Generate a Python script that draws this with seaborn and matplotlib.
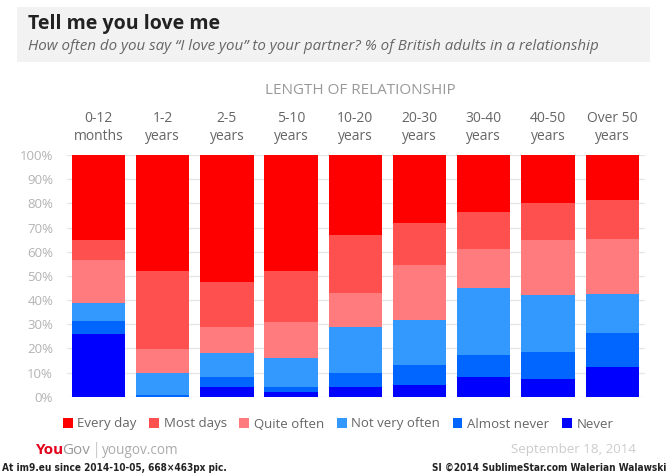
import matplotlib
matplotlib.use("Agg")
import matplotlib.pyplot as plt
from matplotlib.patches import Rectangle, Patch
import numpy as np
import pandas as pd
import seaborn as sns

# ---- data (percent of respondents) ----
categories = ["0-12\nmonths", "1-2\nyears", "2-5\nyears", "5-10\nyears", "10-20\nyears",
              "20-30\nyears", "30-40\nyears", "40-50\nyears", "Over 50\nyears"]
every_day     = [35.0, 48.0, 52.6, 48.0, 33.1, 28.0, 23.4, 19.7, 18.5]
most_days     = [8.4, 32.1, 18.4, 21.1, 24.0, 17.5, 15.5, 15.5, 16.4]
quite_often   = [17.7, 10.1, 10.8, 14.9, 14.1, 22.8, 16.3, 22.7, 22.5]
not_very_often = [7.6, 9.1, 10.2, 12.0, 19.0, 18.5, 27.4, 23.6, 16.3]
almost_never  = [5.4, 0.7, 4.0, 2.1, 5.8, 8.2, 9.4, 11.3, 14.0]
never         = [25.9, 0.0, 4.0, 1.9, 4.0, 5.0, 8.0, 7.2, 12.3]
series_names = ["Every day", "Most days", "Quite often", "Not very often", "Almost never", "Never"]
series_values = [every_day, most_days, quite_often, not_very_often, almost_never, never]
colors = ["#FF0000", "#FF5050", "#FF7B7E", "#3399FF", "#0066FF", "#0000FF"]
y_ticks = [0, 10, 20, 30, 40, 50, 60, 70, 80, 90, 100]

sns.set_theme(style="white")
plt.rcParams["font.family"] = ["Open Sans", "DejaVu Sans"]

fig = plt.figure(figsize=(6.68, 4.75), dpi=100)
W, H = 668, 475
ax = fig.add_axes([67 / W, 1 - 396.7 / H, (645 - 67) / W, (396.7 - 155) / H])

# stacked bars: draw cumulative heights from the top series down
df = pd.DataFrame({name: vals for name, vals in zip(series_names, series_values)})
cum = np.zeros(len(categories))
cums = {}
for name in series_names[::-1]:
    cum = cum + np.array(df[name])
    cums[name] = cum.copy()
total = cums[series_names[0]]
for name in series_names:
    d = pd.DataFrame({"cat": categories, "val": cums[name] / total * 100})
    sns.barplot(data=d, x="cat", y="val", color=colors[series_names.index(name)],
                width=0.83, saturation=1, ax=ax, zorder=3, linewidth=0)

ax.set_xlim(-0.49, 8.51)
ax.set_ylim(0, 100)
ax.set_yticks(y_ticks)
ax.set_yticklabels([f"{t}%" for t in y_ticks], color="#b3b3b3", fontsize=9.5)
ax.grid(axis="y", color="#e6e6e6", linewidth=1, zorder=0)
ax.grid(axis="x", visible=False)
for s in ax.spines.values():
    s.set_visible(False)
ax.tick_params(axis="y", length=0, pad=10)
ax.xaxis.tick_top()
ax.tick_params(axis="x", length=0, pad=8, labelsize=10, labelcolor="#666666")
ax.set_xticks(range(len(categories)))
ax.set_xticklabels(categories, linespacing=1.25)
ax.set_xlabel("")
ax.set_ylabel("")

# header band
fig.patches.append(Rectangle((17 / W, 1 - 62 / H), (650 - 17) / W, (62 - 7) / H,
                             transform=fig.transFigure, facecolor="#f2f2f2",
                             edgecolor="none", zorder=0))
fig.text(28 / W, 1 - 24 / H, "Tell me you love me", fontsize=14, fontweight="bold",
         color="#222222", va="center", ha="left")
fig.text(28 / W, 1 - 47 / H,
         "How often do you say \u201cI love you\u201d to your partner? % of British adults in a relationship",
         fontsize=10.9, style="italic", color="#666666", va="center", ha="left")
fig.text(360 / W, 1 - 90 / H, "LENGTH OF RELATIONSHIP", fontsize=11, color="#999999",
         ha="center", va="center")

# legend
handles = [Patch(facecolor=c, edgecolor="none", label=n) for n, c in zip(series_names, colors)]
leg = fig.legend(handles=handles, loc="center", bbox_to_anchor=(338 / W, 1 - 424 / H),
                 ncol=6, frameon=False, fontsize=9.5, handlelength=0.75, handleheight=0.75,
                 handletextpad=0.35, columnspacing=0.95, borderaxespad=0)
for t in leg.get_texts():
    t.set_color("#666666")

# footer
fig.text(36 / W, 1 - 450 / H, "You", fontsize=11, fontweight="bold", color="#e3001b",
         va="center", ha="left")
fig.text(62 / W, 1 - 450 / H, "Gov", fontsize=11, color="#9a9a9a",
         va="center", ha="left")
fig.text(97 / W, 1 - 450 / H, "|", fontsize=12, color="#cccccc", va="center", ha="center")
fig.text(102 / W, 1 - 450 / H, "yougov.com", fontsize=9.8, color="#aaaaaa",
         va="center", ha="left")
fig.text(636 / W, 1 - 450 / H, "September 18, 2014", fontsize=9.6, color="#cccccc",
         va="center", ha="right")
fig.text(2 / W, 1 - 468 / H, "At im9.eu since 2014-10-05, 668\u00d7463px pic.", fontsize=7.2,
         fontweight="bold", color="#222222", va="center", ha="left",
         family="DejaVu Sans", fontstretch="condensed")
fig.text(666 / W, 1 - 468 / H, "SI \u00a92014 SublimeStar.com Walerian Walawski", fontsize=7.2,
         fontweight="bold", color="#222222", va="center", ha="right",
         family="DejaVu Sans", fontstretch="condensed")

fig.savefig("out.png", dpi=100, facecolor="white")
